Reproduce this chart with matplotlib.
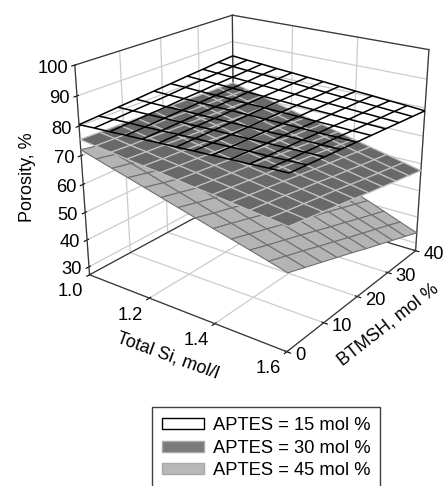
import matplotlib
matplotlib.use('Agg')
import numpy as np
import matplotlib.pyplot as plt
from matplotlib.patches import Patch
from mpl_toolkits.mplot3d import proj3d

plt.rcParams['font.family'] = ['Liberation Sans', 'DejaVu Sans']

total_si = [1.0, 1.05, 1.1, 1.15, 1.2, 1.25, 1.3, 1.35, 1.4, 1.45, 1.5, 1.55, 1.6]
btmsh = [0, 4.4, 8.9, 13.3, 17.8, 22.2, 26.7, 31.1, 35.6, 40]

# rows are BTMSH, columns are total Si
aptes_15 = [
    [80.5, 80.8, 81.0, 81.3, 81.5, 81.8, 82.0, 82.3, 82.5, 82.8, 83.0, 83.3, 83.5],
    [80.9, 81.1, 81.3, 81.4, 81.6, 81.8, 82.0, 82.1, 82.3, 82.5, 82.6, 82.8, 83.0],
    [81.4, 81.5, 81.6, 81.7, 81.8, 81.9, 82.0, 82.0, 82.1, 82.2, 82.3, 82.4, 82.5],
    [81.8, 81.8, 81.8, 81.9, 81.9, 81.9, 81.9, 81.9, 81.9, 82.0, 82.0, 82.0, 82.0],
    [82.3, 82.2, 82.2, 82.1, 82.0, 82.0, 81.9, 81.8, 81.8, 81.7, 81.6, 81.6, 81.5],
    [82.7, 82.6, 82.4, 82.3, 82.1, 82.0, 81.9, 81.7, 81.6, 81.4, 81.3, 81.1, 81.0],
    [83.2, 83.0, 82.8, 82.5, 82.3, 82.1, 81.9, 81.6, 81.4, 81.2, 80.9, 80.7, 80.5],
    [83.6, 83.3, 83.0, 82.7, 82.4, 82.1, 81.8, 81.5, 81.2, 80.9, 80.6, 80.3, 80.0],
    [84.1, 83.7, 83.3, 83.0, 82.6, 82.2, 81.8, 81.4, 81.0, 80.7, 80.3, 79.9, 79.5],
    [84.5, 84.0, 83.6, 83.1, 82.7, 82.2, 81.8, 81.3, 80.8, 80.4, 79.9, 79.5, 79.0],
]
aptes_30 = [
    [75.5, 74.8, 74.2, 73.5, 72.8, 72.2, 71.5, 70.8, 70.2, 69.5, 68.8, 68.2, 67.5],
    [75.3, 74.6, 73.8, 73.1, 72.3, 71.6, 70.9, 70.1, 69.4, 68.6, 67.9, 67.1, 66.4],
    [75.2, 74.4, 73.6, 72.7, 71.9, 71.1, 70.3, 69.4, 68.6, 67.8, 67.0, 66.1, 65.3],
    [75.0, 74.1, 73.2, 72.3, 71.4, 70.5, 69.6, 68.7, 67.8, 66.9, 66.0, 65.1, 64.2],
    [74.8, 73.8, 72.9, 71.9, 70.9, 69.9, 69.0, 68.0, 67.0, 66.0, 65.1, 64.1, 63.1],
    [74.7, 73.6, 72.6, 71.5, 70.4, 69.4, 68.3, 67.2, 66.2, 65.1, 64.0, 63.0, 61.9],
    [74.5, 73.4, 72.2, 71.1, 69.9, 68.8, 67.7, 66.5, 65.4, 64.2, 63.1, 61.9, 60.8],
    [74.3, 73.1, 71.9, 70.7, 69.4, 68.2, 67.0, 65.8, 64.6, 63.4, 62.1, 60.9, 59.7],
    [74.2, 72.9, 71.6, 70.3, 69.0, 67.7, 66.4, 65.1, 63.8, 62.5, 61.2, 59.9, 58.6],
    [74.0, 72.6, 71.3, 69.9, 68.5, 67.1, 65.8, 64.4, 63.0, 61.6, 60.3, 58.9, 57.5],
]
aptes_45 = [
    [72.0, 70.4, 68.8, 67.3, 65.7, 64.1, 62.5, 60.9, 59.3, 57.8, 56.2, 54.6, 53.0],
    [70.9, 69.2, 67.6, 65.9, 64.2, 62.6, 60.9, 59.2, 57.6, 55.9, 54.2, 52.6, 50.9],
    [69.8, 68.1, 66.3, 64.6, 62.8, 61.1, 59.3, 57.6, 55.8, 54.1, 52.3, 50.6, 48.8],
    [68.7, 66.9, 65.0, 63.2, 61.4, 59.5, 57.7, 55.9, 54.0, 52.2, 50.4, 48.5, 46.7],
    [67.6, 65.7, 63.8, 61.8, 59.9, 58.0, 56.1, 54.2, 52.3, 50.3, 48.4, 46.5, 44.6],
    [66.4, 64.4, 62.4, 60.4, 58.4, 56.4, 54.4, 52.4, 50.4, 48.4, 46.4, 44.4, 42.4],
    [65.3, 63.2, 61.1, 59.1, 57.0, 54.9, 52.8, 50.7, 48.6, 46.6, 44.5, 42.4, 40.3],
    [64.2, 62.0, 59.9, 57.7, 55.5, 53.4, 51.2, 49.0, 46.9, 44.7, 42.5, 40.4, 38.2],
    [63.1, 60.9, 58.6, 56.4, 54.1, 51.9, 49.6, 47.4, 45.1, 42.9, 40.6, 38.4, 36.1],
    [62.0, 59.7, 57.3, 55.0, 52.7, 50.3, 48.0, 45.7, 43.3, 41.0, 38.7, 36.3, 34.0],
]

si_ticks = [1.0, 1.2, 1.4, 1.6]
btmsh_ticks = [0, 10, 20, 30, 40]
porosity_ticks = [30, 40, 50, 60, 70, 80, 90, 100]
legend_labels = ['APTES = 15 mol %', 'APTES = 30 mol %', 'APTES = 45 mol %']

fig = plt.figure(figsize=(4.44, 4.86), dpi=100)
ax = fig.add_axes([0.045, 0.226, 1.04, 0.85], projection='3d', computed_zorder=False)
ax.view_init(elev=22, azim=-54)
ax.set_proj_type('persp', focal_length=0.45)
ax.set_box_aspect((1, 1, 0.91), zoom=0.96)

ax.set_xlim(1.0, 1.6)
ax.set_ylim(0, 40)
ax.set_zlim(27, 100)

# dark frame of the three back walls and the floor
x0, x1 = ax.get_xlim()
y0, y1 = ax.get_ylim()
z0, z1 = ax.get_zlim()
frame = [([x0, x1], [y0, y0], [z0, z0]), ([x1, x1], [y0, y1], [z0, z0]),
         ([x0, x1], [y1, y1], [z0, z0]), ([x0, x0], [y0, y1], [z0, z0]),
         ([x0, x0], [y0, y0], [z0, z1]), ([x1, x1], [y1, y1], [z0, z1]),
         ([x0, x0], [y1, y1], [z0, z1]), ([x0, x0], [y0, y1], [z1, z1]),
         ([x0, x1], [y1, y1], [z1, z1])]
for fx, fy, fz in frame:
    ax.plot(fx, fy, fz, color='#383838', linewidth=0.9, zorder=1)

X, Y = np.meshgrid(total_si, btmsh)
ax.plot_surface(X, Y, np.array(aptes_45), color='#b4b4b4', edgecolor='#707070', linewidth=0.8,
                shade=False, zorder=2)
ax.plot_surface(X, Y, np.array(aptes_30), color='#696969', edgecolor='#c0c0c0', linewidth=0.9,
                shade=False, zorder=3)
ax.plot_wireframe(X, Y, np.array(aptes_15), color='black', linewidth=1.1, zorder=4)

ax.set_xlim(x0, x1)
ax.set_ylim(y0, y1)
ax.set_zlim(z0, z1)
ax.set_xticks(si_ticks)
ax.set_yticks(btmsh_ticks)
ax.set_zticks(porosity_ticks)
ax.set_xticklabels([])
ax.set_yticklabels([])
ax.set_zticklabels([])

for axis in (ax.xaxis, ax.yaxis, ax.zaxis):
    axis.set_pane_color((1, 1, 1, 1))
    axis.line.set_color((1, 1, 1, 0))
    axis._axinfo['grid'].update(color='#cccccc', linewidth=0.9)
    axis._axinfo['tick'].update(color='#404040')
ax.zaxis.set_ticks_position('lower')


def tick_label(x, y, z, text, dx, dy, ha):
    # project the tick position, then shift the label by pixels
    px, py, _ = proj3d.proj_transform(x, y, z, ax.get_proj())
    ax.annotate(text, (px, py), xytext=(dx * 0.72, dy * 0.72), textcoords='offset points',
                fontsize=13.2, ha=ha, va='center', annotation_clip=False)


for t in si_ticks:
    tick_label(t, 0, 27, '%.1f' % t, -19, -17, 'center')
for t in btmsh_ticks:
    tick_label(1.6, t, 27, str(t), 8, -4, 'left')
for t in porosity_ticks:
    tick_label(1.0, 0, t, str(t), -7, -3, 'right')

fig.text(27 / 444, 1 - 177 / 486, 'Porosity, %', rotation=90, fontsize=13, ha='center', va='center')
fig.text(168 / 444, 1 - 356 / 486, 'Total Si, mol/l', rotation=-20, fontsize=13, ha='center', va='center')
fig.text(388 / 444, 1 - 325 / 486, 'BTMSH, mol %', rotation=38, fontsize=13, ha='center', va='center')

handles = [Patch(facecolor='white', edgecolor='black', linewidth=1),
           Patch(facecolor='#7a7a7a', edgecolor='#a8a8a8', linewidth=1),
           Patch(facecolor='#b8b8b8', edgecolor='#a8a8a8', linewidth=1)]
fig.legend(handles, legend_labels, loc='upper left', bbox_to_anchor=(152 / 444, 1 - 407 / 486),
           fontsize=13.2, fancybox=False, framealpha=1, edgecolor='#404040', borderaxespad=0,
           handlelength=2.3, handleheight=0.55, labelspacing=0.3, handletextpad=0.45, borderpad=0.55)

fig.savefig('out.png', dpi=100)
